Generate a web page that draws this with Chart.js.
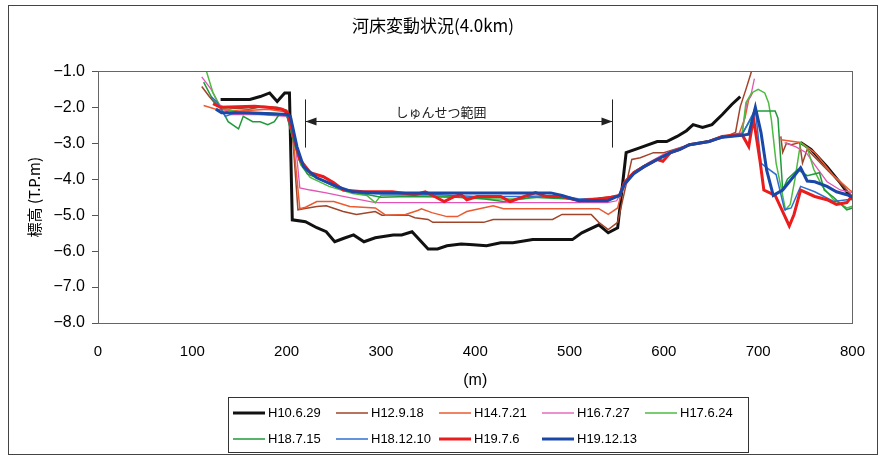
<!DOCTYPE html>
<html lang="ja">
<head>
<meta charset="utf-8">
<title>河床変動状況(4.0km)</title>
<script src="https://cdn.jsdelivr.net/npm/chart.js@4.4.1/dist/chart.umd.min.js"></script>
<style>
  html, body { margin: 0; padding: 0; background: #fff; }
</style>
</head>
<body>
<canvas id="chartRiverbed" width="885" height="462"></canvas>
<script>
// River bed cross sections at 4.0km, one line per survey date
// [distance (m), elevation (T.P.m)] ; null = no data / off scale

const H10_6_29 = [[130,-1.78],[161,-1.78],[172,-1.70],[182,-1.60],[190,-1.84],[198,-1.60],[203,-1.60],[206,-5.13],[220,-5.18],[232,-5.35],[242,-5.46],[251,-5.74],[260,-5.65],[271,-5.55],[282,-5.74],[294,-5.63],[313,-5.55],[322,-5.55],[333,-5.46],[350,-5.94],[360,-5.94],[370,-5.85],[385,-5.80],[398,-5.82],[412,-5.85],[427,-5.77],[440,-5.77],[461,-5.68],[482,-5.68],[503,-5.68],[513,-5.49],[531,-5.27],[541,-5.49],[551,-5.35],[560,-3.26],[575,-3.12],[593,-2.95],[603,-2.95],[614,-2.81],[624,-2.65],[631,-2.48],[641,-2.56],[651,-2.48],[662,-2.20],[672,-1.92],[681,-1.70],[713,null],[745,-2.98],[756,-3.17],[773,-3.65],[787,-4.10],[794,-4.35],[800,-4.57]];

const H12_9_18 = [[110,-1.42],[118,-1.70],[126,-1.95],[140,-2.02],[160,-2.05],[175,-1.98],[190,-2.00],[200,-2.08],[205,-2.30],[212,-4.85],[218,-4.82],[232,-4.76],[242,-4.74],[260,-4.90],[274,-4.98],[294,-4.90],[301,-5.00],[329,-5.00],[336,-5.07],[350,-5.12],[355,-5.20],[409,-5.20],[419,-5.12],[482,-5.12],[492,-4.98],[523,-4.98],[531,-5.20],[541,-5.40],[551,-5.20],[566,-3.45],[575,-3.40],[589,-3.26],[600,-3.26],[617,-3.12],[633,-3.00],[648,-2.95],[662,-2.85],[676,-2.70],[681,-1.98],[687,-1.50],[692,-1.08],[697,-0.60],[710,null],[724,-2.81],[726,-3.25],[730,-3.00],[735,-3.04],[744,-2.98],[747,-3.55],[752,-3.17],[766,-3.55],[783,-4.00],[794,-4.30],[800,-4.48]];

const H14_7_21 = [[112,-1.95],[125,-2.05],[150,-2.10],[180,-2.05],[198,-2.12],[205,-2.35],[214,-4.82],[220,-4.78],[232,-4.62],[250,-4.62],[267,-4.76],[294,-4.80],[305,-5.00],[326,-4.98],[339,-4.87],[343,-4.82],[354,-4.93],[370,-5.04],[381,-5.04],[391,-4.90],[419,-4.74],[430,-4.82],[461,-4.82],[531,-4.82],[541,-4.98],[551,-4.80],[555,-4.38],[560,-4.10],[568,-3.80],[580,-3.60],[595,-3.42],[607,-3.25],[620,-3.12],[635,-3.00],[650,-2.92],[665,-2.80],[680,-2.72],[686,-2.30],[690,-1.78],[694,-1.60],[705,null],[724,-2.90],[745,-2.98],[760,-3.26],[780,-3.90],[797,-4.30],[800,-4.35]];

const H16_7_27 = [[110,-1.15],[120,-1.50],[128,-1.90],[140,-2.20],[170,-2.20],[200,-2.25],[206,-2.60],[209,-2.90],[214,-4.24],[225,-4.30],[242,-4.38],[260,-4.48],[294,-4.65],[400,-4.65],[540,-4.65],[550,-4.60],[558,-4.20],[568,-3.85],[583,-3.55],[600,-3.30],[620,-3.10],[648,-2.95],[670,-2.80],[683,-2.70],[688,-1.85],[692,-1.70],[696,-1.20],[710,null],[728,-2.98],[740,-3.10],[751,-3.26],[760,-3.60],[773,-4.07],[787,-4.30],[800,-4.37]];

const H17_6_24 = [[115,-1.00],[122,-1.60],[130,-2.00],[150,-2.15],[180,-2.15],[200,-2.20],[208,-3.00],[215,-3.60],[225,-3.95],[245,-4.20],[270,-4.40],[285,-4.45],[294,-4.65],[300,-4.45],[350,-4.45],[420,-4.55],[450,-4.55],[480,-4.45],[510,-4.60],[540,-4.50],[553,-4.45],[558,-4.12],[568,-3.84],[579,-3.66],[593,-3.46],[607,-3.28],[617,-3.18],[627,-3.06],[648,-2.96],[662,-2.83],[683,-2.76],[687,-1.87],[693,-1.60],[700,-1.50],[707,-1.60],[711,-1.87],[714,-2.34],[719,-3.55],[724,-4.20],[729,-4.85],[734,-4.70],[739,-4.00],[745,-2.98],[752,-3.12],[759,-3.73],[768,-4.20],[780,-4.57],[794,-4.80],[800,-4.75]];

const H18_7_15 = [[112,-1.30],[122,-1.80],[130,-2.00],[138,-2.40],[149,-2.60],[154,-2.25],[164,-2.40],[172,-2.40],[180,-2.48],[187,-2.40],[192,-2.20],[200,-2.20],[207,-2.90],[214,-3.50],[222,-3.85],[240,-4.05],[260,-4.30],[280,-4.40],[300,-4.50],[330,-4.48],[380,-4.50],[410,-4.55],[430,-4.62],[460,-4.50],[500,-4.55],[520,-4.62],[540,-4.55],[553,-4.45],[558,-4.08],[568,-3.80],[579,-3.62],[593,-3.44],[607,-3.25],[617,-3.15],[627,-3.03],[648,-2.93],[662,-2.80],[683,-2.74],[695,-2.20],[700,-2.10],[718,-2.10],[721,-2.30],[726,-4.30],[731,-4.00],[742,-3.73],[752,-3.90],[765,-3.82],[770,-4.30],[780,-4.50],[794,-4.85],[800,-4.80]];

const H18_12_10 = [[120,-1.70],[126,-1.85],[135,-2.25],[145,-2.15],[180,-2.20],[200,-2.20],[206,-2.70],[212,-3.30],[220,-3.75],[235,-4.00],[255,-4.25],[280,-4.40],[350,-4.42],[400,-4.48],[450,-4.48],[490,-4.45],[510,-4.55],[540,-4.52],[553,-4.45],[558,-4.10],[568,-3.82],[579,-3.64],[593,-3.45],[607,-3.27],[617,-3.16],[627,-3.05],[648,-2.95],[662,-2.82],[683,-2.76],[690,-2.40],[697,-2.05],[703,-3.55],[709,-3.68],[719,-3.87],[728,-4.85],[735,-4.80],[745,-4.20],[760,-4.35],[780,-4.62],[794,-4.57],[800,-4.55]];

const H19_7_6 = [[122,-1.90],[130,-2.00],[166,-1.97],[180,-2.00],[195,-2.05],[201,-2.15],[214,-3.45],[225,-3.82],[239,-3.93],[250,-4.10],[260,-4.30],[281,-4.35],[312,-4.35],[336,-4.43],[347,-4.35],[357,-4.48],[367,-4.62],[378,-4.48],[385,-4.43],[391,-4.57],[402,-4.48],[427,-4.48],[437,-4.62],[450,-4.50],[464,-4.37],[475,-4.48],[492,-4.48],[510,-4.60],[530,-4.55],[544,-4.50],[553,-4.45],[558,-4.10],[568,-3.82],[579,-3.65],[593,-3.45],[599,-3.50],[607,-3.26],[617,-3.17],[627,-3.04],[648,-2.95],[662,-2.81],[683,-2.76],[690,-3.09],[695,-2.30],[702,-3.50],[706,-4.30],[718,-4.45],[726,-4.90],[733,-5.30],[738,-4.98],[745,-4.30],[760,-4.48],[773,-4.57],[783,-4.70],[794,-4.65],[800,-4.45]];

const H19_12_13 = [[125,-2.05],[131,-2.15],[160,-2.15],[201,-2.20],[204,-2.25],[211,-3.10],[218,-3.65],[232,-3.96],[253,-4.20],[270,-4.35],[300,-4.38],[480,-4.38],[492,-4.45],[510,-4.60],[540,-4.60],[553,-4.45],[558,-4.15],[568,-3.85],[579,-3.65],[593,-3.45],[607,-3.26],[617,-3.17],[627,-3.04],[648,-2.95],[662,-2.83],[683,-2.78],[690,-2.75],[697,-2.00],[703,-2.70],[709,-3.75],[716,-4.45],[726,-4.30],[745,-3.68],[752,-4.05],[760,-4.07],[773,-4.20],[783,-4.35],[794,-4.43],[800,-4.50]];

// dredging range (しゅんせつ範囲) limits, m
const dredgeFrom = 220;
const dredgeTo = 545;

(function(){
  const JP = '"Noto Sans CJK JP", "Noto Sans", sans-serif';
  const SANS = '"Liberation Sans", Arial, sans-serif';

  function pts(rows){ return rows.map(r => ({ x: r[0], y: r[1] })); }

  // label, data, colour, width, draw order (lower = on top)
  const series = [
    ['H10.6.29',  H10_6_29,  '#111111', 3,   8],
    ['H12.9.18',  H12_9_18,  '#a0442a', 1.5, 7],
    ['H14.7.21',  H14_7_21,  '#ec5a32', 1.5, 6],
    ['H16.7.27',  H16_7_27,  '#e255b4', 1.3, 5],
    ['H17.6.24',  H17_6_24,  '#4dbb3f', 1.5, 4],
    ['H18.7.15',  H18_7_15,  '#1f9a3a', 1.5, 3],
    ['H18.12.10', H18_12_10, '#2f6fd0', 1.5, 2],
    ['H19.7.6',   H19_7_6,   '#ea1c1c', 3,   1],
    ['H19.12.13', H19_12_13, '#1a48a8', 3,   0]
  ];

  // outer frame + plot border
  const framePlugin = {
    id: 'frame',
    beforeDraw(chart){
      const c = chart.ctx;
      c.save();
      c.fillStyle = '#fff';
      c.fillRect(0, 0, chart.width, chart.height);
      c.strokeStyle = '#444';
      c.lineWidth = 1;
      c.strokeRect(8.5, 5.5, 869, 449);
      c.restore();
    },
    afterDraw(chart){
      const a = chart.chartArea, c = chart.ctx;
      c.save();
      c.strokeStyle = '#666';
      c.lineWidth = 1;
      c.strokeRect(Math.round(a.left) + 0.5, Math.round(a.top) + 0.5,
                   Math.round(a.right - a.left), Math.round(a.bottom - a.top));
      c.restore();
    }
  };

  // dredging range marker
  const dredgePlugin = {
    id: 'dredge',
    afterDatasetsDraw(chart){
      const x = chart.scales.x, y = chart.scales.y, c = chart.ctx;
      const xl = Math.round(x.getPixelForValue(dredgeFrom)) + 0.5;
      const xr = Math.round(x.getPixelForValue(dredgeTo)) + 0.5;
      const yt = y.getPixelForValue(-1.78), yb = y.getPixelForValue(-3.12);
      const ya = Math.round(y.getPixelForValue(-2.37)) + 0.5;
      c.save();
      c.strokeStyle = '#222';
      c.fillStyle = '#222';
      c.lineWidth = 1;
      c.beginPath();
      c.moveTo(xl, yt); c.lineTo(xl, yb);
      c.moveTo(xr, yt); c.lineTo(xr, yb);
      c.moveTo(xl, ya); c.lineTo(xr, ya);
      c.stroke();
      [[xl, 1], [xr, -1]].forEach(([px, d]) => {
        c.beginPath();
        c.moveTo(px, ya);
        c.lineTo(px + d * 11, ya - 4);
        c.lineTo(px + d * 11, ya + 4);
        c.closePath();
        c.fill();
      });
      c.font = '13px ' + JP;
      c.textAlign = 'center';
      c.textBaseline = 'middle';
      c.fillText('しゅんせつ範囲', (xl + xr) / 2 - 18, y.getPixelForValue(-2.12));
      c.restore();
    }
  };

  // boxed legend, 5 columns x 2 rows
  const legendPlugin = {
    id: 'boxLegend',
    afterDraw(chart){
      const c = chart.ctx;
      const box = { x: 228, y: 397, w: 520, h: 55 };
      c.save();
      c.strokeStyle = '#333';
      c.lineWidth = 1;
      c.strokeRect(box.x + 0.5, box.y + 0.5, box.w, box.h);
      c.font = '13px ' + SANS;
      c.textBaseline = 'middle';
      c.fillStyle = '#000';
      chart.data.datasets.forEach((ds, i) => {
        const col = i % 5, row = Math.floor(i / 5);
        const lx = box.x + 5 + col * 103, ly = box.y + 16 + row * 26;
        c.strokeStyle = ds.borderColor;
        c.lineWidth = ds.borderWidth;
        c.beginPath();
        c.moveTo(lx, ly); c.lineTo(lx + 32, ly);
        c.stroke();
        c.fillText(ds.label, lx + 35, ly);
      });
      c.restore();
    }
  };

  new Chart(document.getElementById('chartRiverbed'), {
    type: 'line',
    data: {
      datasets: series.map(s => ({
        label: s[0],
        data: pts(s[1]),
        borderColor: s[2],
        backgroundColor: s[2],
        borderWidth: s[3],
        order: s[4],
        pointRadius: 0,
        tension: 0,
        spanGaps: false
      }))
    },
    options: {
      responsive: false,
      animation: false,
      events: [],
      layout: { padding: { left: 0, right: 19, top: 0, bottom: 69 } },
      plugins: {
        legend: { display: false },
        tooltip: { enabled: false },
        title: {
          display: true,
          text: '河床変動状況(4.0km)',
          color: '#000',
          font: { family: JP, size: 17, weight: 'normal' },
          padding: { top: 15, bottom: 36 }
        }
      },
      scales: {
        x: {
          type: 'linear',
          min: 0, max: 800,
          afterFit(s){ s.height = 70; },
          grid: { display: false, drawTicks: false },
          border: { display: false },
          ticks: { stepSize: 100, padding: 20, color: '#000', font: { family: SANS, size: 15 } },
          title: {
            display: true, text: '(m)', color: '#000',
            font: { family: SANS, size: 16 }, padding: { top: 0, bottom: 3 }
          }
        },
        y: {
          min: -8, max: -1,
          afterFit(s){ s.width = 98; },
          grid: { drawOnChartArea: false, drawTicks: true, tickLength: 6, color: '#555' },
          border: { display: false },
          ticks: {
            stepSize: 1, padding: 7, color: '#000',
            font: { family: SANS, size: 16 },
            callback: v => '\u2212' + Math.abs(v).toFixed(1)
          },
          title: {
            display: true, text: '標高 (T.P.m)', color: '#000',
            font: { family: JP, size: 15 }, padding: { top: 25, bottom: 0 }
          }
        }
      }
    },
    plugins: [framePlugin, dredgePlugin, legendPlugin]
  });
})();
</script>
</body>
</html>
